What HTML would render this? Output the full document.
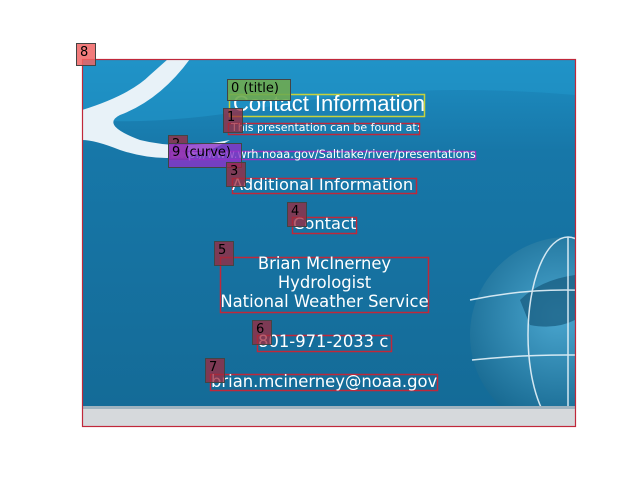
<!DOCTYPE html>
<html><head><meta charset="utf-8"><style>
body{margin:0;width:640px;height:480px;background:#fff;position:relative;overflow:hidden;font-family:"DejaVu Sans","Liberation Sans",sans-serif}
.a{position:absolute;white-space:nowrap;color:#fff}
.tag{position:absolute;background:rgba(160,40,60,.75);border:1px solid #444;color:#000;font-size:13px;line-height:18px;padding:0 3px;box-sizing:border-box}
</style></head><body>
<svg width="640" height="480" style="position:absolute;left:0;top:0">
<defs>
<linearGradient id="bg" x1="0" y1="0" x2="0" y2="1"><stop offset="0" stop-color="#1e8fc4"/><stop offset="0.25" stop-color="#1777a8"/><stop offset="1" stop-color="#146a96"/></linearGradient>
<radialGradient id="gl" cx="0.45" cy="0.4" r="0.6"><stop offset="0" stop-color="#4aa6cf"/><stop offset="1" stop-color="#13648c"/></radialGradient>
<clipPath id="cp"><rect x="82" y="59" width="493" height="367"/></clipPath>
</defs>
<g clip-path="url(#cp)">
<rect x="82" y="59" width="493" height="367" fill="url(#bg)"/>
<path d="M82 59 H575 V95 Q400 80 250 110 Q160 125 82 120Z" fill="#2196c9" opacity="0.6"/>
<path d="M82 110 Q130 95 150 75 L168 59 L190 59 Q160 100 120 115 Q100 125 140 140 Q180 150 230 140 Q180 170 120 150 Q95 140 82 140Z" fill="#e8f2f8"/>
<circle cx="568" cy="335" r="98" fill="url(#gl)"/>
<path d="M520 300 Q540 280 575 275 L575 320 Q555 330 530 325Z" fill="#175a7e" opacity="0.7"/>
<g stroke="#e6f3fa" stroke-width="1.5" fill="none" opacity="0.9">
<ellipse cx="568" cy="335" rx="40" ry="98"/><path d="M470 300 Q565 280 660 300"/><path d="M472 360 Q565 350 660 360"/><line x1="568" y1="237" x2="568" y2="433"/></g>
<rect x="82" y="408" width="493" height="18" fill="#d6d9dc"/>
<rect x="82" y="406" width="493" height="3" fill="#9fb3c0"/>
</g>
<rect x="82.5" y="59.5" width="493" height="367" fill="none" stroke="#c0283a" stroke-width="1.2"/>
<g fill="none" stroke="#c0283a" stroke-width="1.5">
<rect x="229.5" y="94.5" width="195" height="22" stroke="#c8d23a"/>
<rect x="228.5" y="123.5" width="191" height="11"/>
<rect x="170.5" y="151.5" width="305" height="8" stroke="#9b2fbd"/>
<rect x="232.5" y="178.5" width="184" height="15"/>
<rect x="292.5" y="217.5" width="64" height="16"/>
<rect x="220.5" y="257.5" width="208" height="55"/>
<rect x="257.5" y="335.5" width="134" height="16"/>
<rect x="210.5" y="374.5" width="227" height="16"/>
</g>
</svg>
<div class="a" style="left:233px;top:91px;font-family:'Liberation Sans',sans-serif;font-size:22px">Contact Information</div>
<div class="a" style="left:231px;top:121px;font-size:11px">This presentation can be found at:</div>
<div class="a" style="left:172px;top:147px;font-size:11.4px">http://www.wrh.noaa.gov/Saltlake/river/presentations</div>
<div class="a" style="left:232px;top:175px;font-size:16.3px">Additional Information</div>
<div class="a" style="left:293px;top:214px;font-size:16.3px">Contact</div>
<div class="a" style="left:216px;top:254px;width:217px;text-align:center;font-size:16.4px;line-height:19px">Brian McInerney<br>Hydrologist<br>National Weather Service</div>
<div class="a" style="left:258px;top:332px;font-size:16.4px">801-971-2033 c</div>
<div class="a" style="left:211px;top:372px;font-size:16.4px">brian.mcinerney@noaa.gov</div>
<div class="tag" style="left:76px;top:43px;width:20px;height:23px;background:rgba(240,100,100,.85)">8</div>
<div class="tag" style="left:227px;top:79px;width:64px;height:22px;background:rgba(110,170,80,.9)">0 (title)</div>
<div class="tag" style="left:223px;top:108px;width:20px;height:25px">1</div>
<div class="tag" style="left:168px;top:135px;width:20px;height:25px">2</div>
<div class="tag" style="left:168px;top:143px;width:74px;height:25px;background:rgba(140,50,200,.8)">9 (curve)</div>
<div class="tag" style="left:226px;top:162px;width:20px;height:25px">3</div>
<div class="tag" style="left:287px;top:202px;width:20px;height:25px">4</div>
<div class="tag" style="left:214px;top:241px;width:20px;height:25px">5</div>
<div class="tag" style="left:252px;top:320px;width:20px;height:25px">6</div>
<div class="tag" style="left:205px;top:358px;width:20px;height:25px">7</div>
</body></html>
